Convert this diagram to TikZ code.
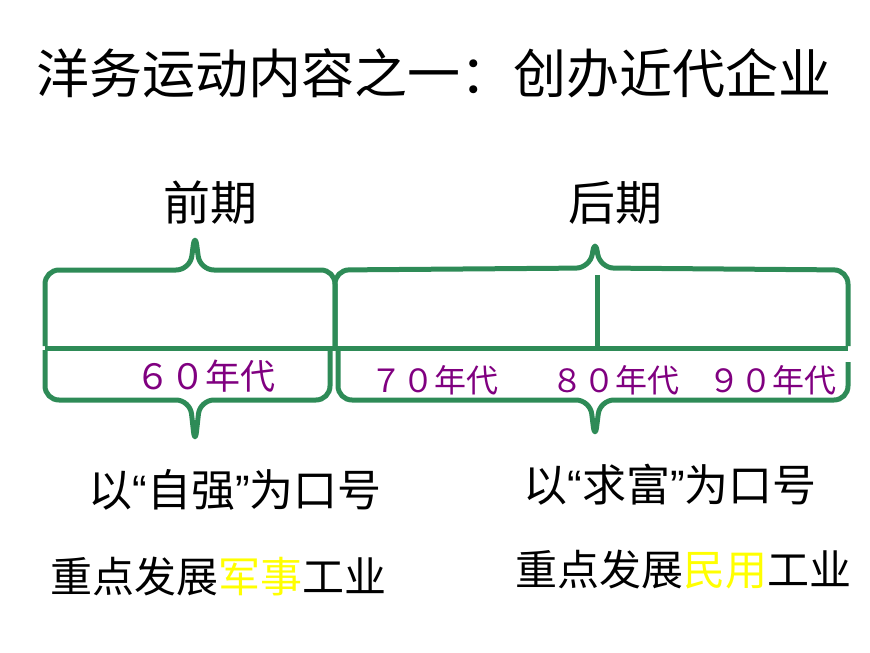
\documentclass[tikz,border=0pt]{standalone}
\usepackage{fontspec}
\setmainfont{Noto Sans CJK SC}
\newfontfamily\latq{Liberation Sans}
\definecolor{bgreen}{RGB}{46,139,87}
\definecolor{dpurple}{RGB}{128,0,128}
\definecolor{hyel}{RGB}{255,255,0}
\begin{document}
\begin{tikzpicture}[x=1pt,y=-1pt,
  br/.style={draw=bgreen,line width=5pt,rounded corners=14pt,line join=round},
  dec/.style={text=dpurple,font=\fontsize{32}{34}\selectfont},
  per/.style={font=\fontsize{47}{50}\selectfont},
  lab/.style={font=\fontsize{42}{46}\selectfont}]
\useasboundingbox (0,0) rectangle (870,653);
\node[anchor=west,font=\fontsize{53}{58}\selectfont] (title) at (33,73) {洋务运动内容之一：创办近代企业};
\node[per] (qq) at (210,203) {前期};
\node[per] (hq) at (615,203) {后期};
\draw[draw=bgreen,line width=5pt] (45,348) coordinate (a0) -- (848,348) coordinate (a1);
\draw[br] (45,346)--(45,270)--(190,270)--(195,232)--(200,270)--(335,270)--(335,346);
\draw[br] (335,346)--(335,270)--(590,268)--(595,238)--(600,268)--(848,270)--(848,346);
\draw[draw=bgreen,line width=5pt] (597,275) coordinate (v0) -- (597,346) coordinate (v1);
\draw[br] (45,350)--(45,400)--(190,400)--(195,445)--(200,400)--(330,400)--(330,350);
\draw[br] (338,350)--(338,400)--(590,400)--(595,440)--(600,400)--(848,400)--(848,362);
\node[dec,font=\fontsize{35}{38}\selectfont] (d6) at (205,376) {６０年代};
\node[dec] (d7) at (434,380) {７０年代};
\node[dec] (d8) at (615,380) {８０年代};
\node[dec] (d9) at (772,380) {９０年代};
\node[lab,font=\fontsize{44}{48}\selectfont] (l1) at (235,490) {以{\latq “}自强{\latq ”}为口号};
\node[lab] (l2) at (218,577) {重点发展\textcolor{hyel}{军事}工业};
\node[lab,font=\fontsize{44}{48}\selectfont] (r1) at (670,485) {以{\latq “}求富{\latq ”}为口号};
\node[lab] (r2) at (683,570) {重点发展\textcolor{hyel}{民用}工业};
\end{tikzpicture}
\end{document}
